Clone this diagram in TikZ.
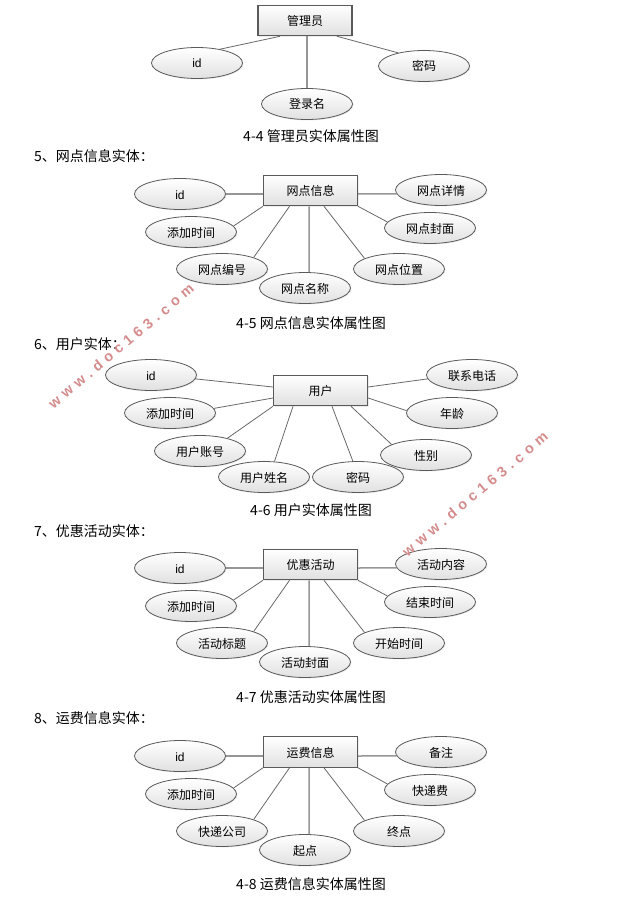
\documentclass[tikz,border=0pt]{standalone}
\usepackage{fontspec}
\setmainfont{Noto Sans CJK SC}
\newfontfamily\latinfont{Liberation Sans}
\usetikzlibrary{shapes.geometric, shadows}
\definecolor{linea}{RGB}{105,105,105}
\definecolor{lineaChiara}{RGB}{150,150,150}
\definecolor{bordo}{RGB}{90,90,90}
\definecolor{filigrana}{RGB}{212,140,140}
\tikzset{
    ombra/.style = {drop shadow = {shadow xshift = 1pt, shadow yshift = -1pt, opacity = 0.15}},
    entita/.style = {rectangle, draw = bordo, line width = 1.1pt, top color = white, bottom color = black!12, minimum width = 94pt, minimum height = 30.5pt, inner sep = 0pt, text height = 10.5pt, text depth = 0.5pt, font = \fontsize{12}{12}\selectfont, ombra},
    attributo/.style = {ellipse, draw = bordo, line width = 0.8pt, top color = white, bottom color = black!12, minimum width = 91pt, minimum height = 31pt, inner sep = 0pt, text height = 10.5pt, text depth = 0.5pt, font = \fontsize{12}{12}\selectfont, ombra},
    legame/.style = {draw = linea, line width = 0.8pt},
    legameDritto/.style = {draw = lineaChiara, line width = 1.5pt},
    didascalia/.style = {font = \fontsize{14}{14}\selectfont},
    titolo/.style = {anchor = west, inner sep = 0pt, font = \fontsize{14}{14}\selectfont},
    filigranaTesto/.style = {text = filigrana, rotate = 40, font = \latinfont\bfseries\fontsize{14.5}{15}\selectfont}
}
\begin{document}
\begin{tikzpicture}[x = 1pt, y = -1pt]
    \useasboundingbox (0,0) rectangle (620,912);
    % Figura 4-4
    \node[entita] (admin) at (305,20.5){管理员};
    \node[attributo] (adminId) at (197,63){\latinfont id};
    \node[attributo] (adminPwd) at (424,66){密码};
    \node[attributo] (adminLogin) at (307,104){登录名};
    \draw[legame] ([xshift = -25pt]admin.south) -- (adminId.31);
    \draw[legame] ([xshift = 32pt]admin.south) -- (adminPwd.153);
    \draw[legameDritto] ([xshift = 2pt]admin.south) -- (adminLogin.north);
    \node[didascalia] (capAdmin) at (311,136){4-4 管理员实体属性图};
    % Figura 4-5
    \node[titolo] (headSite) at (34,156){5、网点信息实体：};
    \node[entita] (site) at (310.5,190.5){网点信息};
    \node[attributo] (siteId) at (180,194){\latinfont id};
    \node[attributo] (siteTime) at (191,232){添加时间};
    \node[attributo] (siteNum) at (222,269){网点编号};
    \node[attributo] (siteName) at (305,288){网点名称};
    \node[attributo] (sitePos) at (399,269){网点位置};
    \node[attributo] (siteCover) at (430,228){网点封面};
    \node[attributo] (siteInfo) at (441,190){网点详情};
    \draw[legameDritto] ([yshift = -3.5pt]site.west) -- (siteId.east);
    \draw[legame] (site.south west) -- (siteTime.8);
    \draw[legame] ([xshift = -21pt]site.south) -- (siteNum.20);
    \draw[legameDritto] ([xshift = -1.5pt]site.south) -- (siteName.75);
    \draw[legame] ([xshift = 13.5pt]site.south) -- (sitePos.163);
    \draw[legame] (site.south east) -- (siteCover.172);
    \draw[legameDritto] ([yshift = -3.5pt]site.east) -- (siteInfo.185);
    \node[didascalia] (capSite) at (311,323){4-5 网点信息实体属性图};
    % Figura 4-6
    \node[titolo] (headUser) at (34,344){6、用户实体：};
    \node[entita] (user) at (320.5,390.5){用户};
    \node[attributo] (userId) at (151,375){\latinfont id};
    \node[attributo] (userTime) at (170,413){添加时间};
    \node[attributo] (userAcc) at (200,451){用户账号};
    \node[attributo] (userName) at (264,477){用户姓名};
    \node[attributo] (userPwd) at (358,477){密码};
    \node[attributo] (userSex) at (426,455){性别};
    \node[attributo] (userAge) at (452,413){年龄};
    \node[attributo] (userTel) at (472,375){联系电话};
    \draw[legame] ([yshift = 3.5pt]user.west) -- (userId.355);
    \draw[legame] ([yshift = -7.5pt]user.west) -- (userTime.6);
    \draw[legame] (user.south west) -- (userAcc.25);
    \draw[legame] ([xshift = -27.5pt]user.south) -- (userName.56);
    \draw[legame] ([xshift = 11.5pt]user.south) -- (userPwd.108);
    \draw[legame] ([xshift = 30.5pt]user.south) -- (userSex.163);
    \draw[legame] ([yshift = -7.5pt]user.east) -- (userAge.177);
    \draw[legame] ([yshift = 3.5pt]user.east) -- (userTel.185);
    \node[didascalia] (capUser) at (311,510){4-6 用户实体属性图};
    % Figura 4-7
    \node[titolo] (headPromo) at (34,531){7、优惠活动实体：};
    \node[entita] (promo) at (310.5,564.5){优惠活动};
    \node[attributo] (promoId) at (180,568){\latinfont id};
    \node[attributo] (promoTime) at (191,606){添加时间};
    \node[attributo] (promoTitle) at (222,643){活动标题};
    \node[attributo] (promoCover) at (305,662){活动封面};
    \node[attributo] (promoStart) at (399,643){开始时间};
    \node[attributo] (promoEnd) at (430,602){结束时间};
    \node[attributo] (promoText) at (441,564){活动内容};
    \draw[legameDritto] ([yshift = -3.5pt]promo.west) -- (promoId.east);
    \draw[legame] (promo.south west) -- (promoTime.8);
    \draw[legame] ([xshift = -21pt]promo.south) -- (promoTitle.20);
    \draw[legameDritto] ([xshift = -1.5pt]promo.south) -- (promoCover.75);
    \draw[legame] ([xshift = 13.5pt]promo.south) -- (promoStart.163);
    \draw[legame] (promo.south east) -- (promoEnd.172);
    \draw[legameDritto] ([yshift = -3.5pt]promo.east) -- (promoText.185);
    \node[didascalia] (capPromo) at (311,697){4-7 优惠活动实体属性图};
    % Figura 4-8
    \node[titolo] (headFee) at (34,718){8、运费信息实体：};
    \node[entita] (fee) at (310.5,752){运费信息};
    \node[attributo] (feeId) at (180,756){\latinfont id};
    \node[attributo] (feeTime) at (191,794){添加时间};
    \node[attributo] (feeComp) at (222,831){快递公司};
    \node[attributo] (feeFrom) at (305,850){起点};
    \node[attributo] (feeTo) at (399,831){终点};
    \node[attributo] (feeCost) at (430,790){快递费};
    \node[attributo] (feeNote) at (441,752){备注};
    \draw[legameDritto] ([yshift = -4pt]fee.west) -- (feeId.east);
    \draw[legame] (fee.south west) -- (feeTime.8);
    \draw[legame] ([xshift = -21pt]fee.south) -- (feeComp.20);
    \draw[legameDritto] ([xshift = -1.5pt]fee.south) -- (feeFrom.75);
    \draw[legame] ([xshift = 13.5pt]fee.south) -- (feeTo.163);
    \draw[legame] (fee.south east) -- (feeCost.172);
    \draw[legameDritto] ([yshift = -4pt]fee.east) -- (feeNote.185);
    \node[didascalia] (capFee) at (311,884){4-8 运费信息实体属性图};
    % Filigrana
    \node[filigranaTesto] (markLeft) at (121,346){w\,\,w\,\,w\,\,.\,\,d\,\,o\,\,c\,\,1\,\,6\,\,3\,\,.\,\,c\,\,o\,\,m};
    \node[filigranaTesto] (markRight) at (475,494){w\,\,w\,\,w\,\,.\,\,d\,\,o\,\,c\,\,1\,\,6\,\,3\,\,.\,\,c\,\,o\,\,m};
\end{tikzpicture}
\end{document}
